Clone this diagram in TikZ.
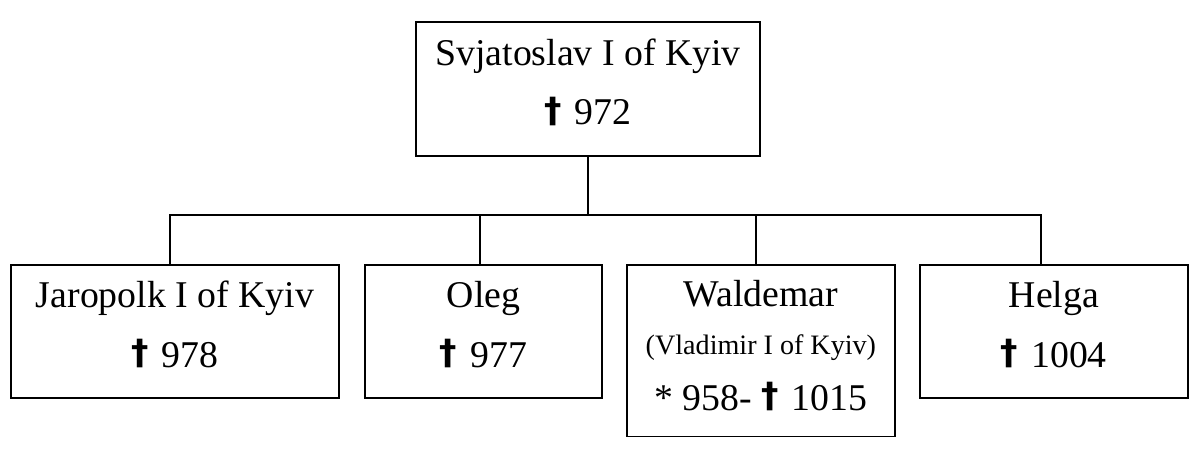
\documentclass[tikz,border=0pt]{standalone}
\usepackage{fontspec}
\setmainfont{Liberation Serif}
\newfontfamily\crossfont[Scale=0.92]{DejaVu Sans}
\newcommand{\died}{\raisebox{1.6pt}{\crossfont\bfseries\char"2020}\kern2pt}
\usetikzlibrary{positioning}

\begin{document}
\begin{tikzpicture}[x=0.02cm, y=-0.02cm,
    person/.style={draw, line width=1pt, inner sep=0pt, outer sep=0pt,
      minimum height=2.66cm, font=\fontsize{21.5}{34}\selectfont},
    link/.style={line width=1pt}]
        \useasboundingbox (0,0) rectangle (1200,450);

        \node[person, minimum width=6.88cm, minimum height=2.68cm] (svjat) at (588,89) {
          \begin{tabular}{@{}c@{}}
            Svjatoslav I of Kyiv \\
            \died{} 972 \\[6.8pt]
          \end{tabular}
        } ;

        \node[person, minimum width=6.56cm] (jaropolk) at (175,331.5) {
          \begin{tabular}{@{}c@{}}
            Jaropolk I of Kyiv \\
            \died{} 978 \\[6.8pt]
          \end{tabular}
        } ;

        \node[person, minimum width=4.74cm,
        below right=0pt and 0.52cm of jaropolk.north east] (oleg) {
          \begin{tabular}{@{}c@{}}
            Oleg \\
            \died{} 977 \\[6.8pt]
          \end{tabular}
        } ;

        \node[person, minimum width=5.36cm, minimum height=3.36cm,
        below right=0pt and 0.5cm of oleg.north east] (waldemar) {
          \begin{tabular}{@{}c@{}}
            Waldemar \\[-6.8pt]
            {\fontsize{16}{20}\selectfont (Vladimir I of Kyiv)} \\[-2.1pt]
            * 958- \died{} 1015 \\[4.5pt]
          \end{tabular}
        } ;

        \node[person, minimum width=5.36cm,
        below right=0pt and 0.5cm of waldemar.north east] (helga) {
          \begin{tabular}{@{}c@{}}
            Helga \\
            \died{} 1004 \\[6.8pt]
          \end{tabular}
        } ;

        \coordinate (bar) at (588,215) ;
        \draw[link] (svjat) -- (bar) ;
        \draw[link] ([xshift=-0.1cm]jaropolk.north) |- (bar)
        -| ([xshift=-0.26cm]helga.north) ;
        \draw[link] ([xshift=-0.07cm]oleg.north) -- ([xshift=-0.07cm]oleg.north |- bar) ;
        \draw[link] ([xshift=-0.1cm]waldemar.north) -- ([xshift=-0.1cm]waldemar.north |- bar) ;
      \end{tikzpicture}
\end{document}
